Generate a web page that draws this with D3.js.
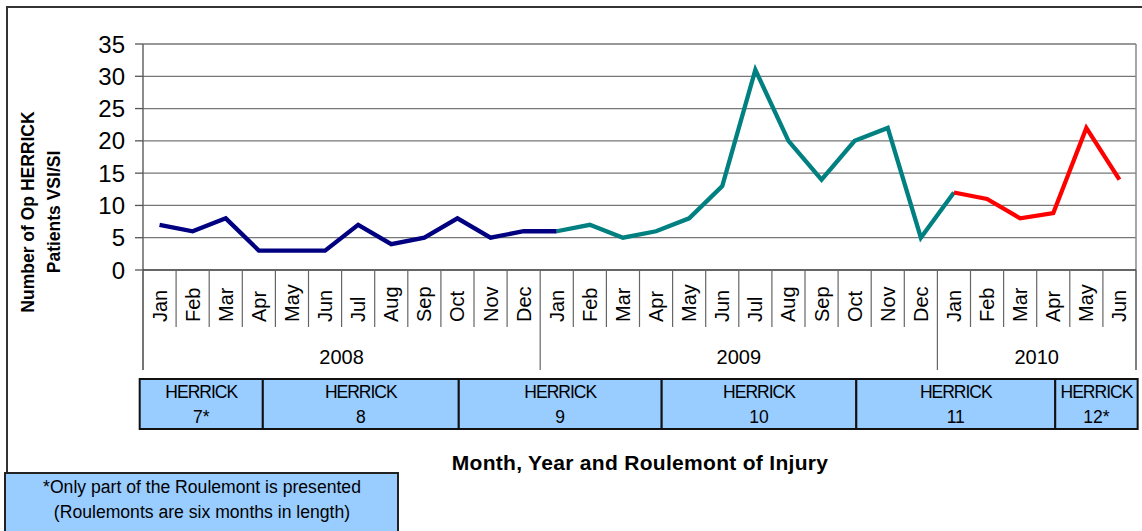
<!DOCTYPE html>
<html>
<head>
<meta charset="utf-8">
<script src="https://cdn.jsdelivr.net/npm/d3@7"></script>
<style>
  body { margin: 0; background: #fff; }
  text { font-family: Arial, "Liberation Sans", sans-serif; }
</style>
</head>
<body>
<div id="chart"></div>
<script>
// data
var months = ["Jan","Feb","Mar","Apr","May","Jun","Jul","Aug","Sep","Oct","Nov","Dec",
              "Jan","Feb","Mar","Apr","May","Jun","Jul","Aug","Sep","Oct","Nov","Dec",
              "Jan","Feb","Mar","Apr","May","Jun"];
var years = ["2008", "2009", "2010"];
var yearLength = [12, 12, 6];
var patients = [7, 6, 8, 3, 3, 3, 7, 4, 5, 8, 5, 6,
                6, 7, 5, 6, 8, 13, 31, 20, 14, 20, 22, 5,
                12, 11, 8, 8.8, 22, 14];
// each coloured piece of the line: first and last month index
var seriesStart = [0, 12, 24];
var seriesEnd = [12, 24, 29];
var seriesColor = ["#000080", "#008080", "#ff0000"];
var yTicks = [0, 5, 10, 15, 20, 25, 30, 35];
// roulements, edges given in months from Jan 2008
var roulements = ["7*", "8", "9", "10", "11", "12*"];
var roulementEdges = [-0.1, 3.62, 9.54, 15.67, 21.55, 27.56, 30.05];

var width = 1142, height = 531;
var plotL = 143, plotR = 1136, plotT = 44, plotB = 270;

var svg = d3.select("#chart").append("svg")
    .attr("width", width)
    .attr("height", height);

var x = d3.scaleBand().domain(d3.range(months.length)).range([plotL, plotR]).padding(0);
var xm = d3.scaleLinear().domain([0, months.length]).range([plotL, plotR]);
var y = d3.scaleLinear().domain([0, 35]).range([plotB, plotT]);

// outer frame
svg.append("path")
    .attr("d", "M7,473V7H" + width)
    .attr("fill", "none")
    .attr("stroke", "#333")
    .attr("stroke-width", 2);

// gridlines
svg.append("g").selectAll("line")
    .data(yTicks.slice(1))
    .enter().append("line")
    .attr("x1", plotL).attr("x2", plotR)
    .attr("y1", function(d){ return y(d); })
    .attr("y2", function(d){ return y(d); })
    .attr("stroke", "#777")
    .attr("stroke-width", 1.3);

// plot right border
svg.append("line")
    .attr("x1", plotR).attr("x2", plotR)
    .attr("y1", plotT).attr("y2", 370)
    .attr("stroke", "#888").attr("stroke-width", 1.5);

// y axis
var yAxis = svg.append("g");
yAxis.append("line")
    .attr("x1", plotL).attr("x2", plotL)
    .attr("y1", plotT).attr("y2", 370)
    .attr("stroke", "#666").attr("stroke-width", 1.5);
yAxis.selectAll("line.tick")
    .data(yTicks)
    .enter().append("line")
    .attr("class", "tick")
    .attr("x1", 135).attr("x2", plotL)
    .attr("y1", function(d){ return y(d); })
    .attr("y2", function(d){ return y(d); })
    .attr("stroke", "#555").attr("stroke-width", 1.3);
yAxis.selectAll("text")
    .data(yTicks)
    .enter().append("text")
    .attr("x", 125)
    .attr("y", function(d){ return y(d) + 8.5; })
    .attr("text-anchor", "end")
    .attr("font-size", "24px")
    .attr("fill", "#000")
    .text(function(d){ return d; });

// x axis baseline
svg.append("line")
    .attr("x1", plotL).attr("x2", plotR)
    .attr("y1", plotB).attr("y2", plotB)
    .attr("stroke", "#333").attr("stroke-width", 1.5);

// month dividers (year boundaries go further down)
var yearStarts = [0];
yearLength.forEach(function(n, i){ yearStarts.push(yearStarts[i] + n); });
svg.append("g").selectAll("line")
    .data(d3.range(months.length + 1))
    .enter().append("line")
    .attr("x1", function(i){ return xm(i); })
    .attr("x2", function(i){ return xm(i); })
    .attr("y1", plotB)
    .attr("y2", function(i){ return yearStarts.indexOf(i) >= 0 ? 370 : 327; })
    .attr("stroke", "#666")
    .attr("stroke-width", 1.2);

// month labels
svg.append("g").selectAll("text")
    .data(months)
    .enter().append("text")
    .attr("transform", function(d, i){
        return "translate(" + (x(i) + x.bandwidth() / 2 + 7) + ",322) rotate(-90)";
    })
    .attr("font-size", "20px")
    .attr("fill", "#000")
    .text(function(d){ return d; });

// year labels
svg.append("g").selectAll("text")
    .data(years)
    .enter().append("text")
    .attr("x", function(d, i){ return (xm(yearStarts[i]) + xm(yearStarts[i + 1])) / 2; })
    .attr("y", 364)
    .attr("text-anchor", "middle")
    .attr("font-size", "20px")
    .attr("fill", "#000")
    .text(function(d){ return d; });

// the line, in three colours
var line = d3.line()
    .x(function(i){ return x(i) + x.bandwidth() / 2; })
    .y(function(i){ return y(patients[i]); });
seriesStart.forEach(function(s, k){
    svg.append("path")
        .attr("d", line(d3.range(s, seriesEnd[k] + 1)))
        .attr("fill", "none")
        .attr("stroke", seriesColor[k])
        .attr("stroke-width", 4.3)
        .attr("stroke-linejoin", "miter");
});

// roulement boxes
var rg = svg.append("g");
roulements.forEach(function(r, i){
    var x0 = xm(roulementEdges[i]), x1 = xm(roulementEdges[i + 1]);
    rg.append("rect")
        .attr("x", x0).attr("y", 379)
        .attr("width", x1 - x0).attr("height", 50)
        .attr("fill", "#99ccff")
        .attr("stroke", "#111")
        .attr("stroke-width", 2);
    rg.append("text")
        .attr("x", (x0 + x1) / 2).attr("y", 398)
        .attr("text-anchor", "middle")
        .attr("font-size", "17.5px")
        .attr("letter-spacing", "-1px")
        .text("HERRICK");
    rg.append("text")
        .attr("x", (x0 + x1) / 2).attr("y", 423)
        .attr("text-anchor", "middle")
        .attr("font-size", "17.5px")
        .text(r);
});

// axis titles
svg.append("text")
    .attr("x", 640).attr("y", 470)
    .attr("text-anchor", "middle")
    .attr("font-size", "21px")
    .attr("font-weight", "bold")
    .attr("letter-spacing", "0.3px")
    .text("Month, Year and Roulemont of Injury");

var yt = svg.append("text")
    .attr("transform", "translate(34,212) rotate(-90)")
    .attr("text-anchor", "middle")
    .attr("font-size", "17.5px")
    .attr("font-weight", "bold");
yt.append("tspan").attr("x", 0).attr("dy", 0).text("Number of Op HERRICK");
yt.append("tspan").attr("x", 0).attr("dy", 26).text("Patients VSI/SI");

// footnote box
svg.append("rect")
    .attr("x", 5).attr("y", 473)
    .attr("width", 393).attr("height", 70)
    .attr("fill", "#99ccff")
    .attr("stroke", "#222")
    .attr("stroke-width", 2);
svg.append("text")
    .attr("x", 202).attr("y", 493)
    .attr("text-anchor", "middle")
    .attr("font-size", "17.6px")
    .text("*Only part of the Roulemont is presented");
svg.append("text")
    .attr("x", 202).attr("y", 518)
    .attr("text-anchor", "middle")
    .attr("font-size", "17.6px")
    .text("(Roulemonts are six months in length)");
</script>
</body>
</html>
